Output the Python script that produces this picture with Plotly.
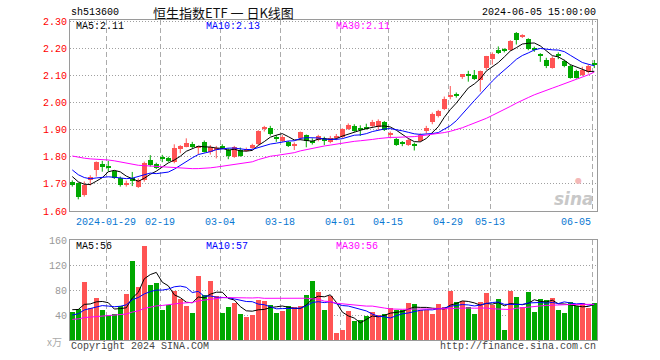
import plotly.graph_objects as go
import numpy as np

# ---------------- data ----------------
dates = [
    "2024-01-19", "2024-01-22", "2024-01-23", "2024-01-24", "2024-01-25", "2024-01-26",
    "2024-01-29", "2024-01-30", "2024-01-31", "2024-02-01", "2024-02-02", "2024-02-05",
    "2024-02-06", "2024-02-07", "2024-02-08", "2024-02-19", "2024-02-20", "2024-02-21",
    "2024-02-22", "2024-02-23", "2024-02-26", "2024-02-27", "2024-02-28", "2024-02-29",
    "2024-03-01", "2024-03-04", "2024-03-05", "2024-03-06", "2024-03-07", "2024-03-08",
    "2024-03-11", "2024-03-12", "2024-03-13", "2024-03-14", "2024-03-15", "2024-03-18",
    "2024-03-19", "2024-03-20", "2024-03-21", "2024-03-22", "2024-03-25", "2024-03-26",
    "2024-03-27", "2024-03-28", "2024-03-29", "2024-04-01", "2024-04-02", "2024-04-03",
    "2024-04-08", "2024-04-09", "2024-04-10", "2024-04-11", "2024-04-12", "2024-04-15",
    "2024-04-16", "2024-04-17", "2024-04-18", "2024-04-19", "2024-04-22", "2024-04-23",
    "2024-04-24", "2024-04-25", "2024-04-26", "2024-04-29", "2024-04-30", "2024-05-06",
    "2024-05-07", "2024-05-08", "2024-05-09", "2024-05-10", "2024-05-13", "2024-05-14",
    "2024-05-15", "2024-05-16", "2024-05-17", "2024-05-20", "2024-05-21", "2024-05-22",
    "2024-05-23", "2024-05-24", "2024-05-27", "2024-05-28", "2024-05-29", "2024-05-30",
    "2024-05-31", "2024-06-03", "2024-06-04", "2024-06-05",
]

opens = [
    1.708, 1.703, 1.658, 1.716, 1.751, 1.773, 1.763, 1.746, 1.720, 1.696,
    1.723, 1.690, 1.714, 1.789, 1.773, 1.800, 1.797, 1.780, 1.830, 1.837,
    1.847, 1.834, 1.856, 1.816, 1.828, 1.840, 1.825, 1.800, 1.825, 1.823,
    1.831, 1.846, 1.903, 1.905, 1.869, 1.858, 1.853, 1.843, 1.868, 1.880,
    1.855, 1.863, 1.861, 1.856, 1.871, 1.874, 1.902, 1.914, 1.904, 1.906,
    1.915, 1.908, 1.927, 1.882, 1.867, 1.851, 1.844, 1.847, 1.858, 1.895,
    1.927, 1.952, 1.976, 2.021, 2.029, 2.095, 2.103, 2.102, 2.083, 2.126,
    2.161, 2.194, 2.193, 2.194, 2.256, 2.245, 2.233, 2.198, 2.175, 2.157,
    2.127, 2.176, 2.155, 2.136, 2.117, 2.102, 2.114, 2.142,
]
closes = [
    1.695, 1.653, 1.696, 1.724, 1.781, 1.761, 1.761, 1.723, 1.696, 1.703,
    1.712, 1.714, 1.778, 1.770, 1.760, 1.793, 1.786, 1.831, 1.839, 1.852,
    1.837, 1.836, 1.819, 1.835, 1.834, 1.831, 1.804, 1.835, 1.804, 1.830,
    1.844, 1.896, 1.906, 1.885, 1.867, 1.873, 1.840, 1.845, 1.890, 1.859,
    1.853, 1.877, 1.859, 1.871, 1.873, 1.901, 1.917, 1.895, 1.902, 1.904,
    1.930, 1.933, 1.899, 1.884, 1.844, 1.849, 1.862, 1.840, 1.880, 1.907,
    1.958, 1.969, 2.013, 2.023, 2.027, 2.105, 2.101, 2.087, 2.118, 2.170,
    2.179, 2.183, 2.191, 2.227, 2.231, 2.247, 2.197, 2.196, 2.173, 2.133,
    2.166, 2.174, 2.134, 2.092, 2.092, 2.120, 2.133, 2.139,
]
highs = [
    1.713, 1.705, 1.709, 1.732, 1.783, 1.785, 1.785, 1.749, 1.727, 1.712,
    1.744, 1.720, 1.782, 1.806, 1.778, 1.807, 1.800, 1.846, 1.843, 1.868,
    1.855, 1.840, 1.860, 1.843, 1.840, 1.846, 1.831, 1.840, 1.834, 1.834,
    1.848, 1.898, 1.914, 1.914, 1.880, 1.880, 1.858, 1.853, 1.893, 1.882,
    1.868, 1.881, 1.874, 1.877, 1.884, 1.905, 1.923, 1.920, 1.916, 1.922,
    1.936, 1.938, 1.932, 1.893, 1.870, 1.858, 1.866, 1.852, 1.886, 1.914,
    1.963, 1.973, 2.022, 2.061, 2.037, 2.105, 2.117, 2.120, 2.118, 2.172,
    2.185, 2.207, 2.200, 2.230, 2.260, 2.252, 2.237, 2.206, 2.182, 2.165,
    2.170, 2.185, 2.158, 2.140, 2.121, 2.132, 2.141, 2.157,
]
lows = [
    1.690, 1.643, 1.653, 1.694, 1.727, 1.745, 1.745, 1.718, 1.690, 1.690,
    1.692, 1.685, 1.708, 1.764, 1.755, 1.780, 1.781, 1.776, 1.813, 1.835,
    1.832, 1.810, 1.816, 1.808, 1.794, 1.828, 1.791, 1.796, 1.800, 1.819,
    1.829, 1.843, 1.893, 1.878, 1.855, 1.855, 1.836, 1.825, 1.862, 1.835,
    1.845, 1.857, 1.843, 1.850, 1.861, 1.868, 1.899, 1.892, 1.877, 1.900,
    1.910, 1.899, 1.895, 1.868, 1.840, 1.839, 1.840, 1.823, 1.855, 1.886,
    1.920, 1.945, 1.972, 2.012, 2.018, 2.087, 2.077, 2.083, 2.040, 2.120,
    2.140, 2.179, 2.185, 2.190, 2.214, 2.238, 2.193, 2.187, 2.150, 2.127,
    2.125, 2.160, 2.130, 2.088, 2.088, 2.098, 2.107, 2.127,
]
volumes = [
    44.8, 49.6, 92.8, 50.7, 67.2, 48.0, 40.0, 41.6, 54.4, 73.6,
    126.4, 84.8, 150.4, 88.0, 91.2, 48.0, 56.0, 78.4, 65.6, 54.4,
    43.2, 102.4, 72.0, 94.4, 70.4, 43.2, 52.8, 59.2, 41.6, 36.8,
    40.0, 64.0, 62.4, 56.0, 43.2, 46.4, 54.4, 52.8, 54.4, 72.0,
    94.4, 76.8, 48.0, 70.4, 11.7, 16.5, 46.4, 30.4, 32.0, 38.9,
    44.3, 40.0, 41.0, 50.7, 48.0, 48.0, 59.2, 57.6, 48.0, 48.0,
    41.6, 57.6, 52.8, 79.0, 60.8, 62.4, 53.3, 41.6, 60.8, 75.2,
    56.0, 65.6, 16.0, 79.0, 68.8, 52.8, 76.8, 44.8, 65.6, 64.0,
    67.2, 48.0, 43.2, 60.8, 54.4, 59.2, 51.2, 59.2,
]
# estimated sessions before the first visible day (only feed the moving averages)
prior_closes = [
    1.80, 1.79, 1.80, 1.81, 1.82, 1.80, 1.81, 1.83, 1.84, 1.82,
    1.83, 1.82, 1.81, 1.83, 1.84, 1.85, 1.87, 1.88, 1.86, 1.86,
    1.83, 1.80, 1.77, 1.75, 1.73, 1.75, 1.74, 1.73, 1.72,
]
prior_volumes = [
    28, 30, 27, 31, 29, 33, 28, 30, 26, 32,
    29, 31, 28, 30, 27, 33, 29, 31, 28, 30,
    30, 32, 28, 35, 32.5, 48, 52, 47, 50.7,
]

label_dates = ["2024-01-29", "2024-02-19", "2024-03-04", "2024-03-18", "2024-04-01",
               "2024-04-15", "2024-04-29", "2024-05-13", "2024-06-05"]
label_texts = ["2024-01-29", "02-19", "03-04", "03-18", "04-01",
               "04-15", "04-29", "05-13", "06-05"]
price_ticks = [1.60, 1.70, 1.80, 1.90, 2.00, 2.10, 2.20, 2.30]
vol_ticks = [40, 80, 120, 160]
ma_periods = [5, 10, 30]
ma_colors = ["#000000", "#0000FF", "#FF00FF"]
price_ma_labels = ["MA5:2.11", "MA10:2.13", "MA30:2.11"]
vol_ma_labels = ["MA5:56", "MA10:57", "MA30:56"]
code_text = "sh513600"
title_text = "恒生指数ETF 一 日K线图"
time_text = "2024-06-05 15:00:00"

# ---------------- helpers ----------------
W, H = 660, 360
L, R, T, B = 70, 63, 20, 20
PW, PH = W - L - R, H - T - B


def px(x):
    return (x - L) / PW


def py(y):
    return (H - B - y) / PH


def moving_average(prior, series, n):
    full = np.array(list(prior) + list(series), dtype=float)
    k = len(prior)
    return [full[k + i - n + 1:k + i + 1].mean() for i in range(len(series))]


UP, DOWN = "#FF5454", "#00A800"
MONO = "Liberation Mono, DejaVu Sans Mono, monospace"
idx = list(range(len(dates)))
is_up = [c >= o for o, c in zip(opens, closes)]
colors = [UP if u else DOWN for u in is_up]

fig = go.Figure()

# wicks
for flag, col in ((True, UP), (False, DOWN)):
    wx, wy = [], []
    for i in idx:
        if is_up[i] == flag:
            wx += [i, i, None]
            wy += [lows[i], highs[i], None]
    fig.add_trace(go.Scatter(x=wx, y=wy, mode="lines", line=dict(color=col, width=1),
                             hoverinfo="skip", xaxis="x", yaxis="y"))

# bodies
base = [min(o, c) for o, c in zip(opens, closes)]
height = [max(abs(c - o), 0.004) for o, c in zip(opens, closes)]
fig.add_trace(go.Bar(x=idx, y=height, base=base, width=0.83,
                     marker=dict(color=colors, line=dict(width=0)),
                     xaxis="x", yaxis="y"))

# price moving averages
for n, col in zip(ma_periods, ma_colors):
    fig.add_trace(go.Scatter(x=idx, y=moving_average(prior_closes, closes, n), mode="lines",
                             line=dict(color=col, width=1), xaxis="x", yaxis="y"))

# volume
fig.add_trace(go.Bar(x=idx, y=volumes, width=0.83,
                     marker=dict(color=colors, line=dict(width=0)),
                     xaxis="x2", yaxis="y2"))
for n, col in zip(ma_periods, ma_colors):
    fig.add_trace(go.Scatter(x=idx, y=moving_average(prior_volumes, volumes, n), mode="lines",
                             line=dict(color=col, width=1), xaxis="x2", yaxis="y2"))

label_pos = [dates.index(d) - 0.33 for d in label_dates]
xrange = [-0.38, len(dates) - 1 + 0.45]
axis_common = dict(showline=True, mirror=True, linecolor="#9A9A9A", linewidth=1,
                   zeroline=False, ticks="", fixedrange=True)

price_dom_bottom = py(211)
vol_dom_top = py(240)

fig.update_layout(
    width=W, height=H,
    margin=dict(l=L, r=R, t=T, b=B),
    paper_bgcolor="white", plot_bgcolor="white",
    showlegend=False, barmode="overlay", bargap=0,
    xaxis=dict(domain=[0, 1], range=xrange, anchor="y", tickvals=label_pos,
               showticklabels=False, showgrid=True, gridcolor="#ABABAB",
               griddash="5px,3px", gridwidth=1, **axis_common),
    yaxis=dict(domain=[price_dom_bottom, 1], range=[1.60, 2.3044], tickvals=price_ticks,
               ticktext=["%.2f" % v for v in price_ticks],
               tickfont=dict(family=MONO, size=10, color="#FF0000"),
               showgrid=True, gridcolor="#A0A0A0", griddash="1px,2px", gridwidth=1,
               **axis_common),
    xaxis2=dict(domain=[0, 1], range=xrange, anchor="y2", tickvals=label_pos,
                showticklabels=False, showgrid=True, gridcolor="#ABABAB",
                griddash="5px,3px", gridwidth=1, **axis_common),
    yaxis2=dict(domain=[0, vol_dom_top], range=[0, 160], tickvals=vol_ticks,
                tickfont=dict(family=MONO, size=10, color="#999999"),
                showgrid=True, gridcolor="#A0A0A0", griddash="1px,2px", gridwidth=1,
                **axis_common),
)

ann = []


def text(x, y, s, color="#000000", anchor="left", size=10, family=MONO):
    ann.append(dict(x=x, y=y, xref="paper", yref="paper", text=s, showarrow=False,
                    xanchor=anchor, yanchor="middle",
                    font=dict(family=family, size=size, color=color)))


text(px(69), py(12.5), code_text)
text(px(151), py(12), title_text, color="#111111", size=13,
     family="Noto Sans CJK SC, sans-serif")
text(px(598), py(12.5), time_text, anchor="right")

for lab, xp, col in zip(price_ma_labels, (74, 204, 334), ma_colors):
    text(px(xp), py(26), lab, color=col)
for lab, xp, col in zip(vol_ma_labels, (74, 204, 334), ma_colors):
    text(px(xp), py(246.5), lab, color=col)

# date labels on the price axis
for d, t in zip(label_dates, label_texts):
    i = dates.index(d)
    if i == len(dates) - 1:
        ann.append(dict(x=i - 0.3, y=py(222), xref="x", yref="paper", text=t,
                        showarrow=False, xanchor="right", yanchor="middle",
                        font=dict(family=MONO, size=10, color="#0A78D2")))
    else:
        ann.append(dict(x=i - 0.33, y=py(222), xref="x", yref="paper", text=t,
                        showarrow=False, xanchor="center", yanchor="middle",
                        font=dict(family=MONO, size=10, color="#0A78D2")))

text(px(64), py(341), "x万", color="#AAAAAA", anchor="right", size=10,
     family="Noto Sans CJK SC, sans-serif")
text(px(69), py(346), "Copyright 2024 SINA.COM", color="#444444")
text(px(598), py(346), "http://finance.sina.com.cn", color="#444444", anchor="right")

# sina watermark
text(px(596), py(199), "<b><i>sina</i></b>", color="#C8C8C8", anchor="right", size=17,
     family="DejaVu Sans, sans-serif")
text(px(584), py(180), "●", color="#F4B8B8", anchor="right", size=8,
     family="DejaVu Sans, sans-serif")

fig.update_layout(annotations=ann)
fig.write_html("out.html")
